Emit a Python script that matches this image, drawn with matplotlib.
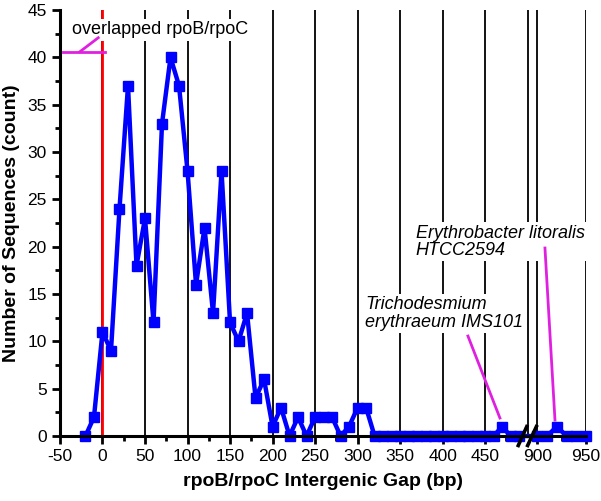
import numpy as np
import matplotlib
matplotlib.use('Agg')
import matplotlib.pyplot as plt
from matplotlib.ticker import FixedLocator, FixedFormatter

plt.rcParams['font.family'] = ['Liberation Sans', 'DejaVu Sans']

# gap (bp) -> number of sequences
gap = [-20, -10, 0, 10, 20, 30, 40, 50, 60, 70, 80, 90, 100, 110, 120, 130, 140,
       150, 160, 170, 180, 190, 200, 210, 220, 230, 240, 250, 260, 270, 280, 290,
       300, 310, 320, 330, 340, 350, 360, 370, 380, 390, 400, 410, 420, 430, 440,
       450, 460, 470, 480, 490, 900, 910, 920, 930, 940, 950]
count = [0, 2, 11, 9, 24, 37, 18, 23, 12, 33, 40, 37, 28, 16, 22, 13, 28,
         12, 10, 13, 4, 6, 1, 3, 0, 2, 0, 2, 2, 2, 0, 1,
         3, 3, 0, 0, 0, 0, 0, 0, 0, 0, 0, 0, 0, 0, 0,
         0, 0, 1, 0, 0, 0, 0, 1, 0, 0, 0]

major_ticks = [-50, 0, 50, 100, 150, 200, 250, 300, 350, 400, 450, 900, 950]
minor_ticks = [-25, 25, 75, 125, 175, 225, 275, 325, 375, 425, 475, 925]

# axis break: 500..890 squeezed out, right part a bit wider per bp
B0, B1, K, EPS = 500.0, 890.0, 1.143, 1e-4
JUMP = (B1 - B0) * EPS


def fwd(x):
    x = np.asarray(x, dtype=float)
    return np.where(x <= B0, x,
                    np.where(x >= B1, B0 + JUMP + (x - B1) * K, B0 + (x - B0) * EPS))


def inv(u):
    u = np.asarray(u, dtype=float)
    return np.where(u <= B0, u,
                    np.where(u >= B0 + JUMP, B1 + (u - B0 - JUMP) / K, B0 + (u - B0) / EPS))


fig = plt.figure(figsize=(6.01, 5.01), dpi=100)
ax = fig.add_axes([0.0998, 0.1297, 0.8752, 0.8503])
ax.set_xscale('function', functions=(fwd, inv))
ax.set_xlim(-50, 950)
ax.set_ylim(0, 45)

# vertical grid
for g in major_ticks[1:] + [500]:
    ax.axvline(g, color='black', lw=1.3, zorder=1)
ax.axvline(0, color='red', lw=2, zorder=2)

ax.plot(gap, count, color='#0000ff', lw=3.2, marker='s', ms=6.5,
        clip_on=False, zorder=5)

ax.xaxis.set_major_locator(FixedLocator(major_ticks))
ax.xaxis.set_major_formatter(FixedFormatter([str(t) for t in major_ticks]))
ax.xaxis.set_minor_locator(FixedLocator(minor_ticks))
ax.set_yticks(np.arange(0, 46, 5))
ax.set_yticks(np.arange(2.5, 45, 5), minor=True)
ax.tick_params(which='major', direction='out', length=6, width=2, labelsize=12.5)
ax.tick_params(which='minor', direction='out', length=3.5, width=2)

for s in ['top', 'right']:
    ax.spines[s].set_visible(False)
for s in ['left', 'bottom']:
    ax.spines[s].set_linewidth(2.2)
    ax.spines[s].set_zorder(6)

# break marks
for bx in [B0 - 6, B1 + 4]:
    ax.plot([bx - 5, bx + 5], [-1.0, 1.0], color='black', lw=2.6,
            clip_on=False, zorder=7)

ax.set_xlabel('rpoB/rpoC Intergenic Gap (bp)', fontsize=14, fontweight='bold', labelpad=6)
ax.set_ylabel('Number of Sequences (count)', fontsize=14, fontweight='bold', labelpad=5)

box = dict(facecolor='white', edgecolor='none', pad=1.5)
mag = '#e020e0'

ax.text(67.6, 42.9, 'overlapped rpoB/rpoC', fontsize=13, ha='center', va='center',
        bbox=box, zorder=4)
ax.plot([-46.5, 2.9], [40.6, 40.6], color=mag, lw=2, zorder=4)
ax.plot([-26.5, -5], [40.6, 42.07], color=mag, lw=2, zorder=4)

ax.text(308.7, 12.94, 'Trichodesmium\nerythraeum IMS101', fontsize=13, style='italic',
        ha='left', va='center', linespacing=1.1, bbox=box, zorder=4)
ax.plot([429.8, 467.4], [10.56, 1.9], color=mag, lw=2, zorder=4)

ax.text(368.6, 20.5, 'Erythrobacter litoralis\nHTCC2594', fontsize=13, style='italic',
        ha='left', va='center', linespacing=1.05, bbox=box, zorder=4)
ax.plot([907.8, 918.1], [19.86, 1.69], color=mag, lw=2, zorder=4)

fig.savefig('out.png', dpi=100)
